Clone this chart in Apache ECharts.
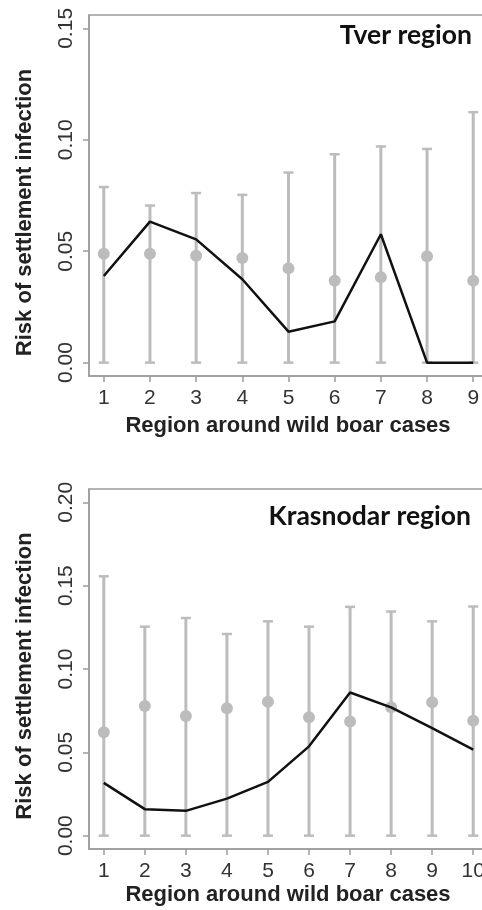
<!DOCTYPE html>
<html>
<head>
<meta charset="utf-8">
<script src="https://cdn.jsdelivr.net/npm/echarts@6/dist/echarts.min.js"></script>
<style>
html,body{margin:0;padding:0;background:#fff;overflow:hidden;}
#chart{width:482px;height:910px;}
</style>
</head>
<body>
<div id="chart"></div>
<script>
// ---- Data ----
var tverX = [1, 2, 3, 4, 5, 6, 7, 8, 9];
var tverMean = [0.0489, 0.0489, 0.0480, 0.0470, 0.0423, 0.0367, 0.0383, 0.0477, 0.0367];
var tverLower = [0, 0, 0, 0, 0, 0, 0, 0, 0];
var tverUpper = [0.0788, 0.0705, 0.0761, 0.0753, 0.0853, 0.0935, 0.0970, 0.0959, 0.1124];
var tverObserved = [0.0389, 0.0633, 0.0553, 0.0374, 0.0139, 0.0185, 0.0576, 0.0, 0.0];

var krasX = [1, 2, 3, 4, 5, 6, 7, 8, 9, 10];
var krasMean = [0.0621, 0.0778, 0.0718, 0.0764, 0.0804, 0.0710, 0.0685, 0.0770, 0.0800, 0.0690];
var krasLower = [0, 0, 0, 0, 0, 0, 0, 0, 0, 0];
var krasUpper = [0.1556, 0.1254, 0.1306, 0.1210, 0.1286, 0.1254, 0.1373, 0.1345, 0.1286, 0.1375];
var krasObserved = [0.0317, 0.0159, 0.0149, 0.0222, 0.0323, 0.0536, 0.0859, 0.0770, 0.0645, 0.0516];

var tverYTicks = [0, 0.05, 0.10, 0.15];
var krasYTicks = [0, 0.05, 0.10, 0.15, 0.20];

var panelTitles = ['Tver region', 'Krasnodar region'];
var xTitle = 'Region around wild boar cases';
var yTitle = 'Risk of settlement infection';

// ---- Styles ----
var GRAY = '#bcbcbc';
var BOX = '#9c9c9c';
var LABEL = '#333';

function zip3(x, a, b) { return x.map(function (v, i) { return [v, a[i], b[i]]; }); }
function zip2(x, a) { return x.map(function (v, i) { return [v, a[i]]; }); }

function errRender(params, api) {
  var x = api.value(0), lo = api.value(1), hi = api.value(2);
  var pLo = api.coord([x, lo]), pHi = api.coord([x, hi]);
  var w = 5;
  var st = { stroke: GRAY, lineWidth: 3 };
  var cs = { stroke: GRAY, lineWidth: 2.5 };
  return {
    type: 'group',
    children: [
      { type: 'line', shape: { x1: pLo[0], y1: pLo[1], x2: pHi[0], y2: pHi[1] }, style: st },
      { type: 'line', shape: { x1: pLo[0] - w, y1: pLo[1], x2: pLo[0] + w, y2: pLo[1] }, style: cs },
      { type: 'line', shape: { x1: pHi[0] - w, y1: pHi[1], x2: pHi[0] + w, y2: pHi[1] }, style: cs }
    ]
  };
}

function xAxisCfg(idx, xs, min, max) {
  return {
    type: 'value', gridIndex: idx, min: min, max: max,
    axisLine: { show: true, onZero: false, lineStyle: { color: BOX, width: 1.5 } },
    axisTick: { show: true, length: 6, customValues: xs, lineStyle: { color: BOX, width: 1.5 } },
    axisLabel: { customValues: xs, margin: 12, fontSize: 21, color: LABEL, fontFamily: 'Liberation Sans' },
    splitLine: { show: false }
  };
}
function yAxisCfg(idx, ticks, min, max) {
  return {
    type: 'value', gridIndex: idx, min: min, max: max,
    axisLine: { show: true, onZero: false, lineStyle: { color: BOX, width: 1.5 } },
    axisTick: { show: true, length: 6, customValues: ticks, lineStyle: { color: BOX, width: 1.5 } },
    axisLabel: {
      customValues: ticks, rotate: 90, margin: 12, fontSize: 21, color: LABEL, fontFamily: 'Liberation Sans',
      formatter: function (v) { return v.toFixed(2); }
    },
    splitLine: { show: false }
  };
}

var chart = echarts.init(document.getElementById('chart'), null, { renderer: 'canvas' });
chart.setOption({
  animation: false,
  backgroundColor: '#fff',
  grid: [
    { left: 89, top: 15, width: 399, height: 361, show: true, borderColor: BOX, borderWidth: 1.5, backgroundColor: 'transparent', outerBoundsMode: 'none', containLabel: false },
    { left: 89, top: 489, width: 399, height: 360, show: true, borderColor: BOX, borderWidth: 1.5, backgroundColor: 'transparent', outerBoundsMode: 'none', containLabel: false }
  ],
  xAxis: [xAxisCfg(0, tverX, 0.68, 9.32), xAxisCfg(1, krasX, 0.64, 10.36)],
  yAxis: [yAxisCfg(0, tverYTicks, -0.006, 0.156), yAxisCfg(1, krasYTicks, -0.008, 0.208)],
  graphic: [
    { type: 'text', x: 472, y: 49, style: { text: panelTitles[0], font: 'bold 26.5px Lato', fill: '#111', textAlign: 'right', textVerticalAlign: 'bottom' } },
    { type: 'text', x: 471, y: 530, style: { text: panelTitles[1], font: 'bold 26.5px Lato', fill: '#111', textAlign: 'right', textVerticalAlign: 'bottom' } },
    { type: 'text', x: 288, y: 425.5, style: { text: xTitle, font: 'bold 22px "Liberation Sans"', fill: '#222', textAlign: 'center', textVerticalAlign: 'middle' } },
    { type: 'text', x: 288, y: 895, style: { text: xTitle, font: 'bold 22px "Liberation Sans"', fill: '#222', textAlign: 'center', textVerticalAlign: 'middle' } },
    { type: 'text', x: 25, y: 212.5, rotation: Math.PI / 2, style: { text: yTitle, font: 'bold 22px "Liberation Sans"', fill: '#222', textAlign: 'center', textVerticalAlign: 'middle' } },
    { type: 'text', x: 25, y: 676, rotation: Math.PI / 2, style: { text: yTitle, font: 'bold 22px "Liberation Sans"', fill: '#222', textAlign: 'center', textVerticalAlign: 'middle' } }
  ],
  series: [
    { type: 'custom', xAxisIndex: 0, yAxisIndex: 0, renderItem: errRender, data: zip3(tverX, tverLower, tverUpper), z: 1, clip: false },
    { type: 'scatter', xAxisIndex: 0, yAxisIndex: 0, data: zip2(tverX, tverMean), symbolSize: 12, itemStyle: { color: GRAY, opacity: 1 }, z: 2 },
    { type: 'line', xAxisIndex: 0, yAxisIndex: 0, data: zip2(tverX, tverObserved), symbol: 'none', lineStyle: { color: '#111', width: 2.5 }, z: 3 },
    { type: 'custom', xAxisIndex: 1, yAxisIndex: 1, renderItem: errRender, data: zip3(krasX, krasLower, krasUpper), z: 1, clip: false },
    { type: 'scatter', xAxisIndex: 1, yAxisIndex: 1, data: zip2(krasX, krasMean), symbolSize: 12, itemStyle: { color: GRAY, opacity: 1 }, z: 2 },
    { type: 'line', xAxisIndex: 1, yAxisIndex: 1, data: zip2(krasX, krasObserved), symbol: 'none', lineStyle: { color: '#111', width: 2.5 }, z: 3 }
  ]
});
</script>
</body>
</html>
